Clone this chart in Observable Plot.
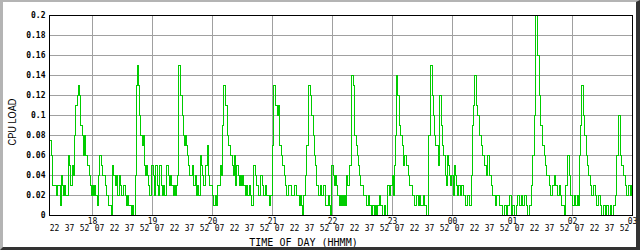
<!DOCTYPE html>
<html>
<head>
<meta charset="utf-8">
<script src="https://cdn.jsdelivr.net/npm/d3@7"></script>
<script src="https://cdn.jsdelivr.net/npm/@observablehq/plot@0.6"></script>
<style>
html, body { margin: 0; padding: 0; background: #fff; }
#wrap { position: relative; width: 640px; height: 250px; overflow: hidden; background: #fff; }
#wrap svg { position: absolute; left: 0; top: 0; }
#edge { position: absolute; left: 0; top: 0; width: 640px; height: 250px; box-sizing: border-box;
  border-top: 2px solid #b4b4b4; border-left: 3px solid #b4b4b4;
  border-bottom: 3px solid #333; border-right: 4px solid #333; pointer-events: none; }
</style>
</head>
<body>
<div id="wrap"><div id="edge"></div></div>
<script>
// CPU load, in hundredths, one sample per minute from 17:17 to 02:59
const loadHundredths = [
  7.5,7.5,6,3,3,3,3,2,3,3,
  3,1,4,3,2,3,2,2,2,6,
  5,3,3,5,4,8,11,11,12,13,
  12,9,9,8,6,8,6,6,5,5,
  4,3,2,3,2,3,2,2,1,4,
  6,6,5,4,4,4,3,2,2,1,
  1,1,0,5,4,4,3,4,2,2,
  4,3,2,2,3,3,2,1,2,1,
  1,1,0,1,0,0,4,13,15,13,
  10,8,8,7,8,5,4,5,4,3,
  2,2,5,5,4,2,5,5,3,2,
  5,5,3,2,3,2,2,5,5,4,
  3,4,3,3,2,3,2,3,4,15,
  15,12,12,10,8,7,8,7,6,5,
  4,4,4,5,3,3,4,2,3,2,
  2,6,5,4,3,3,5,5,7,4,
  3,3,3,2,1,1,2,1,3,3,
  3,5,4,9,13,13,11,11,8,7,
  7,6,6,5,4,6,3,5,5,4,
  3,4,3,4,3,3,2,3,2,2,
  3,2,1,1,5,5,4,3,3,2,
  2,4,4,3,2,2,3,2,2,2,
  1,2,2,7,13,13,11,11,10,11,
  7,7,6,5,5,4,3,2,2,3,
  3,3,2,2,2,3,3,2,2,2,
  1,2,1,0,2,2,4,7,7,13,
  13,12,10,10,8,6,5,3,3,2,
  2,3,2,2,3,3,1,1,1,2,
  1,0,5,5,4,3,4,3,2,2,
  1,2,1,2,1,2,1,4,3,3,
  5,5,14,14,13,8,8,7,6,5,
  4,3,3,3,2,2,2,1,1,2,
  1,1,0,1,1,0,1,0,1,1,
  2,1,1,0,0,1,0,0,3,3,
  2,3,3,4,2,5,8,14,12,12,
  9,8,8,7,5,6,6,5,5,4,
  3,3,3,2,2,1,1,2,2,1,
  2,1,1,1,2,1,1,0,0,8,
  8,15,15,12,10,8,7,7,7,5,
  12,12,9,7,6,6,4,3,6,5,
  4,3,4,4,2,5,4,3,2,3,
  3,2,3,3,2,2,1,1,2,2,
  1,1,4,9,11,14,14,11,10,10,
  8,8,7,6,6,5,5,4,6,6,
  4,4,3,2,2,2,1,2,2,2,
  1,1,1,0,0,1,1,0,1,1,
  2,2,0,1,1,0,0,1,2,2,
  1,1,2,1,1,2,2,1,0,0,
  1,1,3,6,6,10,20,20,16,16,
  12,9,9,7,7,6,5,4,4,4,
  3,2,2,3,3,4,3,3,2,2,
  3,2,1,1,1,0,3,3,6,6,
  4,2,2,1,1,2,1,1,2,1,
  6,9,13,13,10,8,8,6,5,4,
  4,3,2,2,3,3,2,1,1,2,
  2,1,0,0,1,1,0,1,1,0,
  0,1,0,0,1,1,2,6,6,10,
  10,6,5,5,4,4,3,2,2,3,
  3,2,3
];
const startTime = "2024-01-01T17:17Z";
const endTime = "2024-01-02T03:00Z";
const yTicks = [0, 0.02, 0.04, 0.06, 0.08, 0.1, 0.12, 0.14, 0.16, 0.18, 0.2];
const yTickLabels = ["0", "0.02", "0.04", "0.06", "0.08", "0.1", "0.12", "0.14", "0.16", "0.18", "0.2"];
const hourLabels = ["18", "19", "20", "21", "22", "23", "00", "01", "02", "03"];
const minuteLabels = ["22", "37", "52", "07"];
const yTitle = "CPU LOAD";
const xTitle = "TIME OF DAY (HHMM)";

const t0 = new Date(startTime);
const t1 = new Date(endTime);
const data = loadHundredths.map((v, i) => ({t: d3.utcMinute.offset(t0, i), v: v / 100}));
data.push({t: t1, v: loadHundredths[loadHundredths.length - 1] / 100});

const hourTicks = d3.utcHour.range(d3.utcHour.ceil(t0), d3.utcMinute.offset(t1, 1));
const qTicks = d3.range(0, 40).map(i => d3.utcMinute.offset(t0, 5 + 15 * i)).filter(d => d < t1);

const grid = "#a0a0a0";
const plot = Plot.plot({
  width: 640, height: 250,
  marginLeft: 49, marginRight: 8, marginTop: 15, marginBottom: 35,
  style: {background: "transparent", fontFamily: "DejaVu Sans Mono", fontSize: "8px", color: "black"},
  x: {type: "utc", domain: [t0, t1], axis: null},
  y: {domain: [0, 0.2], axis: null},
  marks: [
    Plot.ruleY(yTicks, {stroke: grid, shapeRendering: "crispEdges"}),
    Plot.ruleX(hourTicks, {stroke: grid, shapeRendering: "crispEdges"}),
    Plot.line(data, {x: "t", y: "v", curve: "step-after", stroke: "#00cc00", strokeWidth: 1,
      shapeRendering: "crispEdges"}),
    Plot.frame({stroke: "black", shapeRendering: "crispEdges"}),
    Plot.text(yTicks, {y: d => d, frameAnchor: "left", dx: -4, textAnchor: "end", lineAnchor: "middle",
      text: (d, i) => yTickLabels[i], fontWeight: "bold", fill: "black"}),
    Plot.text(hourTicks, {x: d => d, frameAnchor: "bottom", dy: 3, lineAnchor: "top", textAnchor: "middle",
      text: (d, i) => hourLabels[i], fill: "black"}),
    Plot.text(qTicks, {x: d => d, frameAnchor: "bottom", dy: 9.5, lineAnchor: "top", textAnchor: "middle",
      text: (d, i) => minuteLabels[i % 4], fill: "black"}),
    Plot.text([yTitle], {text: d => d, frameAnchor: "left", dx: -37, dy: 6.5, rotate: -90,
      lineAnchor: "middle", textAnchor: "middle",
      fontFamily: "Liberation Sans", fontSize: 11, fill: "black"}),
    Plot.text([xTitle], {text: d => d, frameAnchor: "bottom", dx: -37.5, dy: 27, lineAnchor: "middle",
      textAnchor: "middle", fontSize: 10, fill: "black"})
  ]
});
// compress the y title to the narrow width of the original face
plot.querySelectorAll("text").forEach(t => {
  if (t.textContent === yTitle) {
    t.setAttribute("textLength", 47);
    t.setAttribute("lengthAdjust", "spacingAndGlyphs");
  }
});
document.getElementById("wrap").insertBefore(plot, document.getElementById("edge"));
</script>
</body>
</html>
